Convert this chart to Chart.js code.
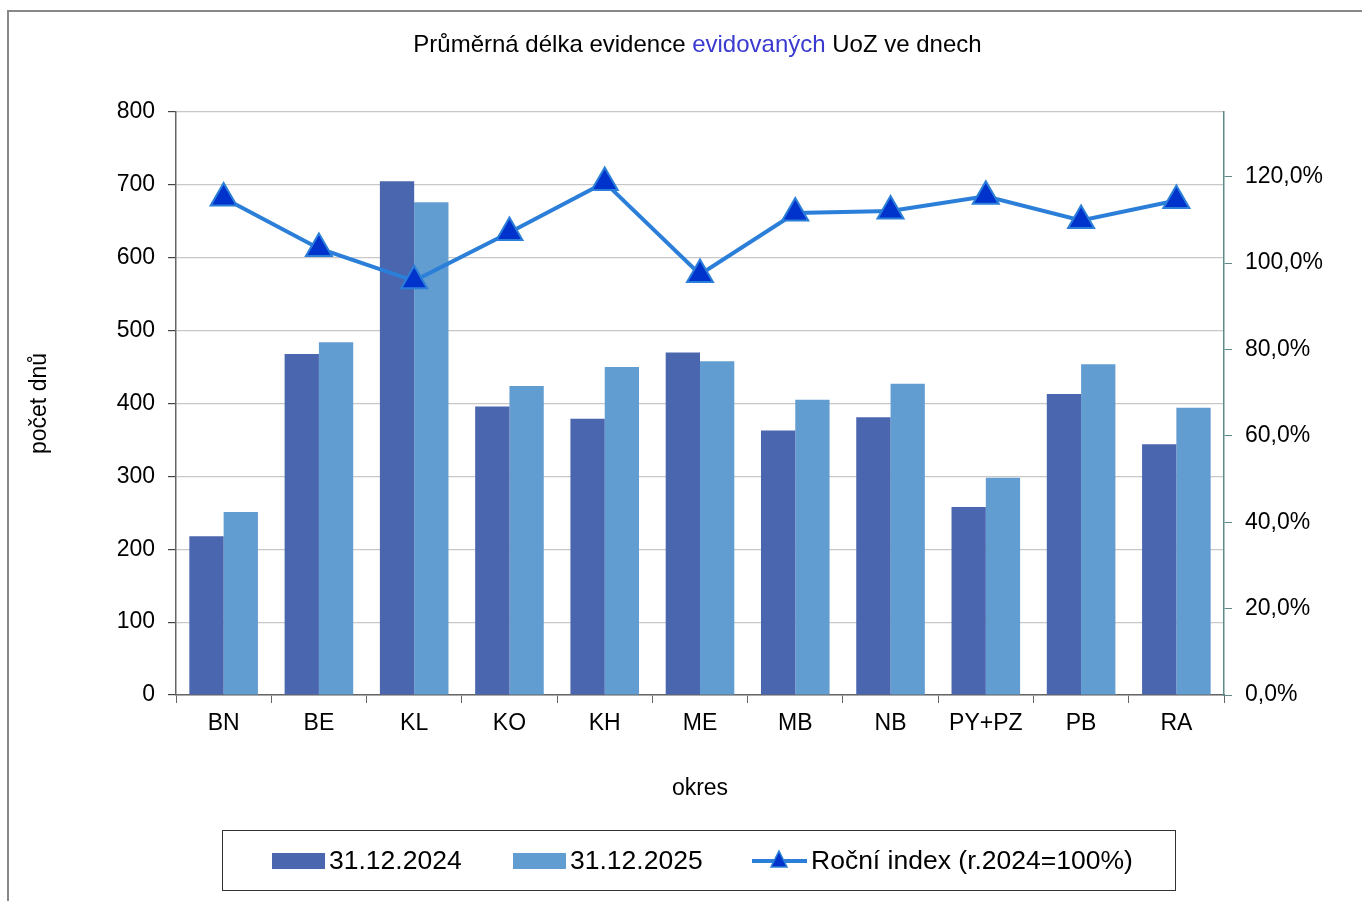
<!DOCTYPE html>
<html>
<head>
<meta charset="utf-8">
<script src="https://cdn.jsdelivr.net/npm/chart.js@4.4.1/dist/chart.umd.min.js"></script>
<style>
  html, body { margin: 0; padding: 0; background: #fff; }
  body { width: 1362px; height: 901px; position: relative; overflow: hidden; font-family: "Liberation Sans", Arial, sans-serif; }
  #frame { position: absolute; left: 7px; top: 10px; width: 1400px; height: 950px; border-left: 2px solid #888; border-top: 2px solid #888; }
  #chart { position: absolute; left: 0; top: 0; }
  #title { position: absolute; left: 0; width: 1395px; top: 30px; text-align: center; font-size: 24px; color: #000; }
  #title span { color: #3a3ad0; }
  #legend { position: absolute; left: 222px; top: 830px; width: 952px; height: 59px; border: 1px solid #333; font-size: 26.5px; }
  .item { position: absolute; top: 0; height: 59px; display: flex; align-items: center; }
  .sw { width: 53px; height: 16px; margin-right: 4px; }
</style>
</head>
<body>
<div id="frame"></div>
<canvas id="chart" width="1362" height="901"></canvas>
<div id="title">Průměrná délka evidence <span>evidovaných</span> UoZ ve dnech</div>
<div id="legend">
  <div class="item" style="left:49px"><div class="sw" style="background:#4a66ae"></div>31.12.2024</div>
  <div class="item" style="left:290px"><div class="sw" style="background:#629dd1"></div>31.12.2025</div>
  <div class="item" style="left:529px">
    <svg width="55" height="30" style="margin-right:4px"><line x1="0" y1="15" x2="55" y2="15" stroke="#2b7fd8" stroke-width="4"/><polygon points="27,5 35,21 19,21" fill="#0033cc" stroke="#2b7fd8" stroke-width="1.5"/></svg>Roční index (r.2024=100%)
  </div>
</div>
<script>
const categories = ['BN', 'BE', 'KL', 'KO', 'KH', 'ME', 'MB', 'NB', 'PY+PZ', 'PB', 'RA'];
const days2024 = [218, 468, 705, 396, 379, 470, 363, 381, 258, 413, 344];
const days2025 = [251, 484, 676, 424, 450, 458, 405, 427, 298, 454, 394];
const yearIndex = [115.1, 103.4, 95.9, 107.1, 118.7, 97.4, 111.6, 112.1, 115.5, 109.9, 114.5];

const fontFamily = '"Liberation Sans", Arial, sans-serif';
const ctx = document.getElementById('chart').getContext('2d');

new Chart(ctx, {
  type: 'bar',
  data: {
    labels: categories,
    datasets: [
      {
        type: 'line',
        label: 'Roční index (r.2024=100%)',
        data: yearIndex,
        yAxisID: 'y2',
        borderColor: '#2b7fd8',
        borderWidth: 4,
        pointStyle: 'triangle',
        pointRadius: 15,
        pointBackgroundColor: '#0033cc',
        pointBorderColor: '#2b7fd8',
        pointBorderWidth: 2,
        tension: 0,
        order: 0
      },
      {
        label: '31.12.2024',
        data: days2024,
        backgroundColor: '#4a66ae',
        yAxisID: 'y',
        order: 1
      },
      {
        label: '31.12.2025',
        data: days2025,
        backgroundColor: '#629dd1',
        yAxisID: 'y',
        order: 1
      }
    ]
  },
  options: {
    responsive: false,
    animation: false,
    datasets: { bar: { barPercentage: 1.0, categoryPercentage: 0.72 } },
    layout: { padding: { top: 112, bottom: 99, left: 0, right: 0 } },
    plugins: {
      legend: { display: false },
      tooltip: { enabled: false }
    },
    scales: {
      x: {
        grid: { drawOnChartArea: false, drawTicks: true, tickLength: 8, color: '#666', offset: true },
        border: { color: '#666', width: 1.5 },
        ticks: { color: '#000', font: { family: fontFamily, size: 23 }, padding: 7 },
        title: { display: true, text: 'okres', color: '#000', font: { family: fontFamily, size: 23 }, padding: { top: 0, bottom: 0 } },
        afterFit: s => { s.height = 107; }
      },
      y: {
        position: 'left',
        min: 0,
        max: 800,
        grid: { color: '#c8c8c8', lineWidth: 1.2, tickLength: 8, tickColor: '#444' },
        border: { color: '#666', width: 1.5 },
        ticks: { stepSize: 100, color: '#000', font: { family: fontFamily, size: 23 }, padding: 13 },
        title: { display: true, text: 'počet dnů', color: '#000', font: { family: fontFamily, size: 23 }, padding: { top: 26, bottom: 0 } },
        afterFit: s => { s.width = 176; }
      },
      y2: {
        position: 'right',
        min: 0,
        max: 135,
        grid: { drawOnChartArea: false, tickLength: 8, tickColor: '#5f8a8a' },
        border: { color: '#5f8a8a', width: 1.5 },
        ticks: {
          stepSize: 20,
          includeBounds: false,
          color: '#000',
          font: { family: fontFamily, size: 23 },
          padding: 13,
          callback: v => v.toFixed(1).replace('.', ',') + '%'
        },
        afterFit: s => { s.width = 138; }
      }
    }
  }
});
</script>
</body>
</html>
